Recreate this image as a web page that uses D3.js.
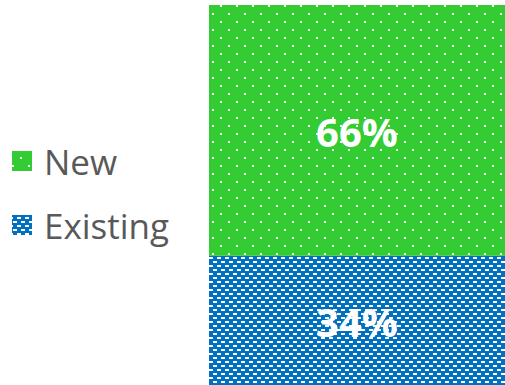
<!DOCTYPE html>
<html>
<head>
<meta charset="utf-8">
<script src="https://cdn.jsdelivr.net/npm/d3@7/dist/d3.min.js"></script>
<style>
html,body{margin:0;padding:0;background:#fff;overflow:hidden;}
svg{display:block;}
</style>
</head>
<body>
<svg id="chart" width="505" height="385"></svg>
<script>
const categories = ["Customers"];
const seriesNames = ["New", "Existing"];
const newValues = [0.66];
const existingValues = [0.34];
const labelFormat = d3.format(".0%");

const W = 505, H = 385;
const svg = d3.select("#chart");
const defs = svg.append("defs");

// green dotted pattern
const pg = defs.append("pattern").attr("id","patNew").attr("patternUnits","userSpaceOnUse")
  .attr("width",16).attr("height",16).attr("x",0).attr("y",0);
pg.append("rect").attr("width",16).attr("height",16).attr("fill","#33CC33");
pg.append("rect").attr("x",12).attr("y",5).attr("width",2).attr("height",2).attr("fill","#fff");
pg.append("rect").attr("x",4).attr("y",13).attr("width",2).attr("height",2).attr("fill","#fff");

// blue dashed pattern
const pb = defs.append("pattern").attr("id","patExisting").attr("patternUnits","userSpaceOnUse")
  .attr("width",8).attr("height",8).attr("x",0).attr("y",0);
pb.append("rect").attr("width",8).attr("height",8).attr("fill","#0070C0");
pb.append("rect").attr("x",1).attr("y",1).attr("width",4).attr("height",2).attr("fill","#fff");
pb.append("rect").attr("x",5).attr("y",5).attr("width",4).attr("height",2).attr("fill","#fff");
pb.append("rect").attr("x",-3).attr("y",5).attr("width",4).attr("height",2).attr("fill","#fff");

const x = d3.scaleBand().domain(categories).range([209, 505]).padding(0);
const y = d3.scaleLinear().domain([0, 1]).range([385, 5]);

const data = categories.map((c,i)=>({cat:c, New:newValues[i], Existing:existingValues[i]}));
const stack = d3.stack().keys(["Existing","New"]);
const series = stack(data);
const fills = {New:"url(#patNew)", Existing:"url(#patExisting)"};

const g = svg.append("g");
series.forEach(s=>{
  g.selectAll(null).data(s).enter().append("rect")
    .attr("x", d=>x(d.data.cat))
    .attr("width", x.bandwidth())
    .attr("y", d=>y(d[1]))
    .attr("height", d=>y(d[0])-y(d[1]))
    .attr("fill", fills[s.key]);
  g.selectAll(null).data(s).enter().append("text")
    .attr("x", d=>x(d.data.cat)+x.bandwidth()/2)
    .attr("y", d=>(y(d[0])+y(d[1]))/2 + 1)
    .attr("text-anchor","middle")
    .attr("dominant-baseline","central")
    .attr("font-family","'Open Sans', sans-serif")
    .attr("font-weight","bold")
    .attr("font-size",40)
    .attr("fill","#fff")
    .text(d=>labelFormat(d.data[s.key]));
});

// legend
const legendY = {New:161, Existing:225};
seriesNames.forEach(n=>{
  svg.append("rect").attr("x",12).attr("y",legendY[n]-10).attr("width",20).attr("height",20)
    .attr("fill",fills[n]);
  svg.append("text").attr("x",44).attr("y",legendY[n])
    .attr("dominant-baseline","central")
    .attr("font-family","'Open Sans', sans-serif")
    .attr("font-size",35)
    .attr("fill","#595959")
    .text(n);
});
</script>
</body>
</html>
